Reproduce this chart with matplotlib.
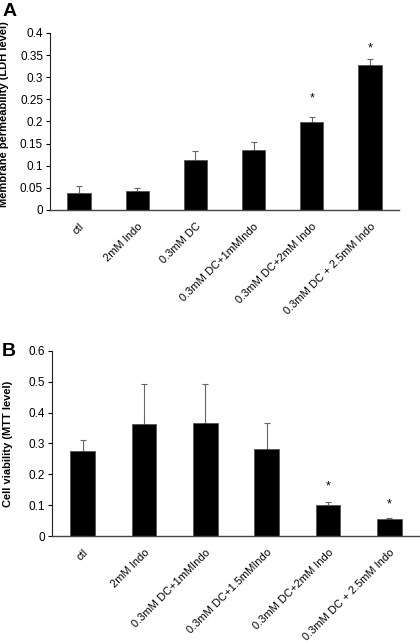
import matplotlib
matplotlib.use("Agg")
import matplotlib.pyplot as plt
import numpy as np

plt.rcParams['font.family'] = ['Liberation Sans', 'DejaVu Sans']

cats_a = ["ctl", "2mM Indo", "0.3mM DC", "0.3mM DC+1mMIndo", "0.3mM DC+2mM Indo", "0.3mM DC + 2.5mM Indo"]
vals_a = [0.039, 0.043, 0.113, 0.136, 0.198, 0.328]
errs_a = [0.014, 0.006, 0.020, 0.018, 0.013, 0.014]
star_a = [None, None, None, None, 0.251, 0.366]
ticks_a = [0, 0.05, 0.1, 0.15, 0.2, 0.25, 0.3, 0.35, 0.4]
tick_labels_a = ["0", "0.05", "0.1", "0.15", "0.2", "0.25", "0.3", "0.35", "0.4"]

cats_b = ["ctl", "2mM Indo", "0.3mM DC+1mMIndo", "0.3mM DC+1.5mMIndo", "0.3mM DC+2mM Indo", "0.3mM DC + 2.5mM Indo"]
vals_b = [0.276, 0.362, 0.366, 0.281, 0.101, 0.054]
errs_b = [0.034, 0.131, 0.127, 0.086, 0.010, 0.003]
star_b = [None, None, None, None, 0.160, 0.104]
ticks_b = [0, 0.1, 0.2, 0.3, 0.4, 0.5, 0.6]
tick_labels_b = ["0", "0.1", "0.2", "0.3", "0.4", "0.5", "0.6"]

fig = plt.figure(figsize=(4.2, 6.42), dpi=100)
axA = fig.add_axes([0.119, 0.673, 0.831, 0.2757])
axB = fig.add_axes([0.1238, 0.165, 0.876, 0.2886])

def draw(ax, cats, vals, errs, stars, ticks, tlabels, ymax, ylabel):
    x = np.arange(len(cats))
    ax.bar(x, vals, width=0.4, color='black', edgecolor='#555555', linewidth=0.6, zorder=2)
    ax.errorbar(x, vals, yerr=[np.zeros(len(errs)), errs], fmt='none',
                ecolor='#666666', elinewidth=0.8, capsize=2, capthick=0.8, zorder=1)
    for xi, s in zip(x, stars):
        if s is not None:
            ax.text(xi, s, "*", ha='center', va='center', fontsize=9)
    ax.set_xlim(-0.5, len(cats) - 0.5)
    ax.set_ylim(0, ymax)
    ax.set_yticks(ticks)
    ax.set_yticklabels(tlabels, fontsize=8.5)
    ax.set_xticks(x)
    ax.set_xticklabels(cats, rotation=45, ha='right', rotation_mode='anchor', fontsize=8)
    ax.tick_params(axis='x', length=0, pad=8)
    ax.tick_params(axis='y', direction='out', length=3, width=0.8, pad=2)
    for sp in ['top', 'right']:
        ax.spines[sp].set_visible(False)
    ax.spines['left'].set_color('#222222')
    ax.spines['bottom'].set_color('#444444')
    ax.spines['left'].set_linewidth(0.8)
    ax.spines['bottom'].set_linewidth(1.0)
    ax.set_ylabel(ylabel, fontsize=8, fontweight='bold', labelpad=6)

draw(axA, cats_a, vals_a, errs_a, star_a, ticks_a, tick_labels_a, 0.4,
     "Membrane permeability (LDH level)")
draw(axB, cats_b, vals_b, errs_b, star_b, ticks_b, tick_labels_b, 0.6,
     "Cell viability (MTT level)")

axA.yaxis.set_label_coords(-0.118, 0.54)
axB.yaxis.set_label_coords(-0.105, 0.5)

fig.text(0.005, 0.982, "A", fontsize=14, fontweight='bold', va='center', ha='left')
fig.text(0.005, 0.452, "B", fontsize=14, fontweight='bold', va='center', ha='left')

fig.savefig("out.png", dpi=100)
